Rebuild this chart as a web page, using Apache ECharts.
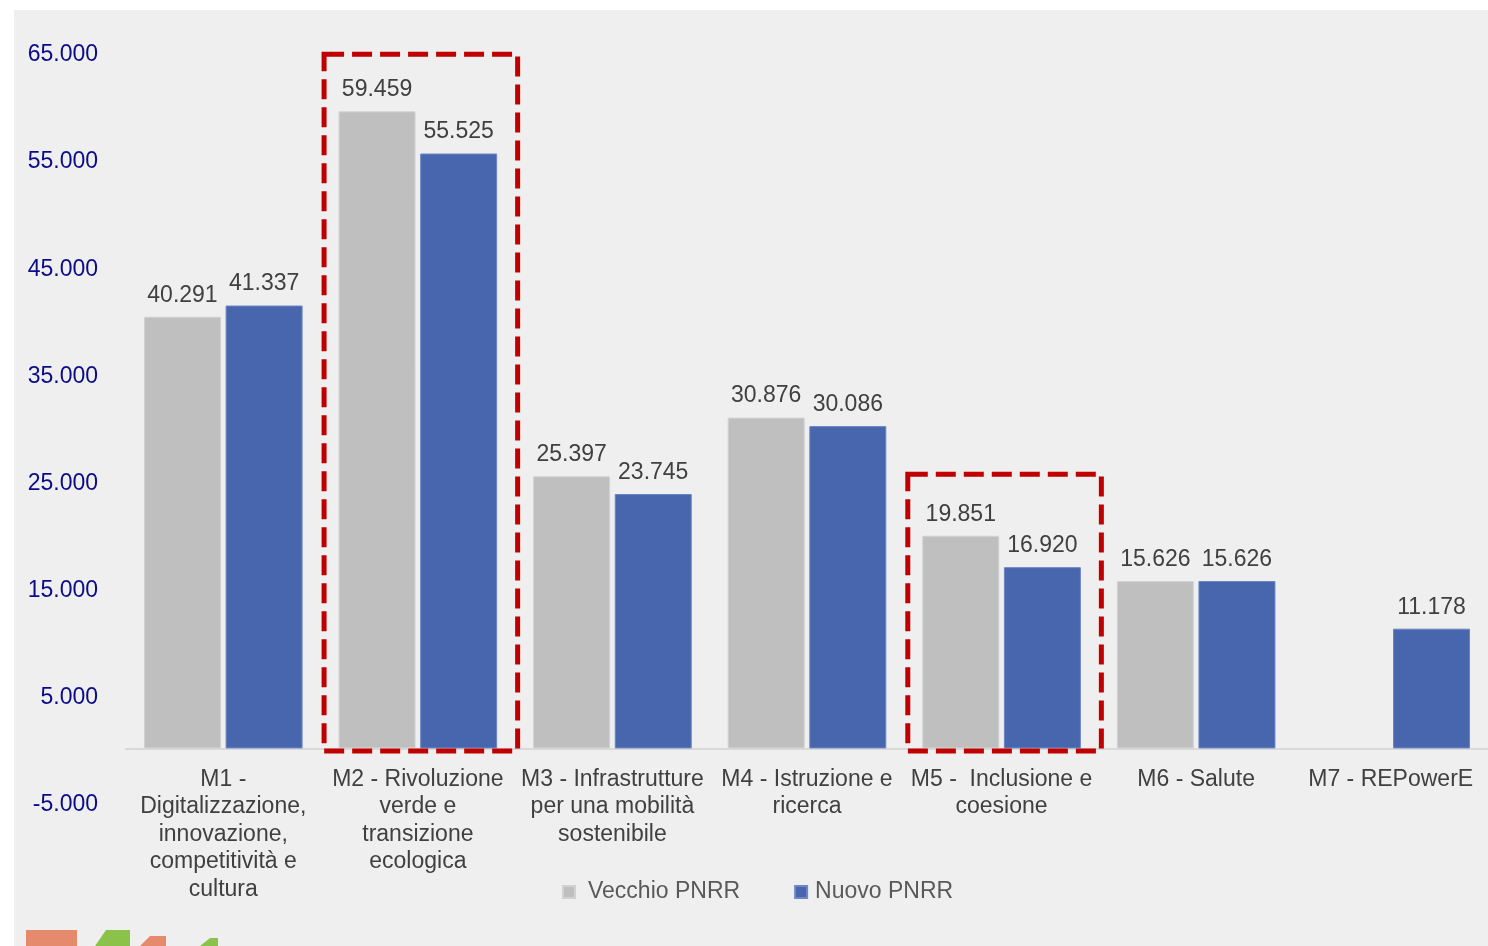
<!DOCTYPE html>
<html>
<head>
<meta charset="utf-8">
<script src="https://cdn.jsdelivr.net/npm/echarts@6/dist/echarts.min.js"></script>
<style>
  html, body { margin: 0; padding: 0; background: #ffffff; }
  #chart { position: absolute; left: 14px; top: 10px; width: 1474px; height: 936px; background: #efefef; }
</style>
</head>
<body>
<div id="chart"></div>
<script>
// PNRR allocations per mission (million euro)
const categories = [
  'M1 -\nDigitalizzazione,\ninnovazione,\ncompetitività e\ncultura',
  'M2 - Rivoluzione\nverde e\ntransizione\necologica',
  'M3 - Infrastrutture\nper una mobilità\nsostenibile',
  'M4 - Istruzione e\nricerca',
  'M5 -  Inclusione e\ncoesione',
  'M6 - Salute',
  'M7 - REPowerE'
]
const vecchio = [40291, 59459, 25397, 30876, 19851, 15626, null]
const nuovo   = [41337, 55525, 23745, 30086, 16920, 15626, 11178]
const seriesNames = ['Vecchio PNRR', 'Nuovo PNRR']

const Y_MIN = -5000, Y_MAX = 65000, Y_STEP = 10000

// dashed highlight boxes: category index + value range
const highlights = [
  { cat: 1, from: -250, to: 64800 },
  { cat: 4, from: -250, to: 25600 }
]

const FONT = '"Liberation Sans", Arial, sans-serif'
const fmt = (v) => String(v).replace(/\B(?=(\d{3})+(?!\d))/g, '.')

const GRID_H = 750
// the category axis sits on the zero line, above the grid's bottom edge
const zeroOffset = -GRID_H * (0 - Y_MIN) / (Y_MAX - Y_MIN)

const chart = echarts.init(document.getElementById('chart'), null, { renderer: 'canvas' })

const labelStyle = {
  show: true, position: 'top', distance: 10,
  color: '#404040', fontSize: 23, fontFamily: FONT,
  formatter: (p) => fmt(p.value)
}

chart.setOption({
  backgroundColor: 'transparent',
  animation: false,
  textStyle: { fontFamily: FONT },
  grid: { left: 112, right: 0, top: 42, height: GRID_H, containLabel: false, outerBoundsMode: 'none' },
  legend: {
    left: 548, top: 870, padding: 0,
    icon: 'rect', itemWidth: 12, itemHeight: 12, itemGap: 54,
    textStyle: { color: '#595959', fontSize: 23, fontFamily: FONT, lineHeight: 24 },
    data: [
      { name: seriesNames[0], textStyle: { padding: [0, 0, 0, 8] } },
      { name: seriesNames[1], textStyle: { padding: [0, 0, 0, 3] } }
    ]
  },
  xAxis: {
    type: 'category', data: categories,
    offset: zeroOffset,
    axisTick: { show: false },
    axisLine: { onZero: false, lineStyle: { color: '#d9d9d9', width: 2 } },
    axisLabel: {
      interval: 0, margin: 17, color: '#404040',
      fontSize: 23, lineHeight: 27.5, fontFamily: FONT
    }
  },
  yAxis: {
    type: 'value', min: Y_MIN, max: Y_MAX, interval: Y_STEP,
    splitLine: { show: false },
    axisLine: { show: false },
    axisTick: { show: false },
    axisLabel: {
      color: '#0b0b88', fontSize: 23, fontFamily: FONT, margin: 28,
      verticalAlign: 'top', lineHeight: 6, formatter: fmt
    }
  },
  series: [
    {
      name: seriesNames[0], type: 'bar', data: vecchio,
      barWidth: 77, barGap: '6%',
      itemStyle: { color: '#bfbfbf', borderColor: '#d2d2d2', borderWidth: 1 },
      label: labelStyle
    },
    {
      name: seriesNames[1], type: 'bar', data: nuovo,
      barWidth: 77, barGap: '6%',
      itemStyle: { color: '#4866ad', borderColor: '#6c86c6', borderWidth: 1 },
      label: labelStyle
    }
  ]
})

// red dashed rectangles around the highlighted missions + corner logo
function drawOverlays() {
  const elements = highlights.map((h) => {
    const c0 = chart.convertToPixel({ gridIndex: 0 }, [h.cat, h.to])
    const c1 = chart.convertToPixel({ gridIndex: 0 }, [h.cat + 1, h.from])
    const half = (c1[0] - c0[0]) / 2
    return {
      type: 'rect', z: 100,
      shape: { x: c0[0] - half + 3.5, y: c0[1], width: 2 * half - 1, height: c1[1] - c0[1] },
      style: { fill: 'none', stroke: '#c00000', lineWidth: 5, lineDash: [20, 8] }
    }
  })
  // partial logo peeking in at the bottom-left
  elements.push(
    { type: 'rect', shape: { x: 12, y: 920, width: 51, height: 20 }, style: { fill: '#e58a6d' } },
    { type: 'polygon', shape: { points: [[81, 936], [92, 920], [116, 920], [116, 936]] }, style: { fill: '#8bc34a' } },
    { type: 'polygon', shape: { points: [[126, 936], [136, 926], [152, 926], [152, 936]] }, style: { fill: '#e58a6d' } },
    { type: 'polygon', shape: { points: [[186, 936], [196, 928], [204, 928], [204, 936]] }, style: { fill: '#8bc34a' } }
  )
  chart.setOption({ graphic: elements })
}
drawOverlays()
</script>
</body>
</html>
